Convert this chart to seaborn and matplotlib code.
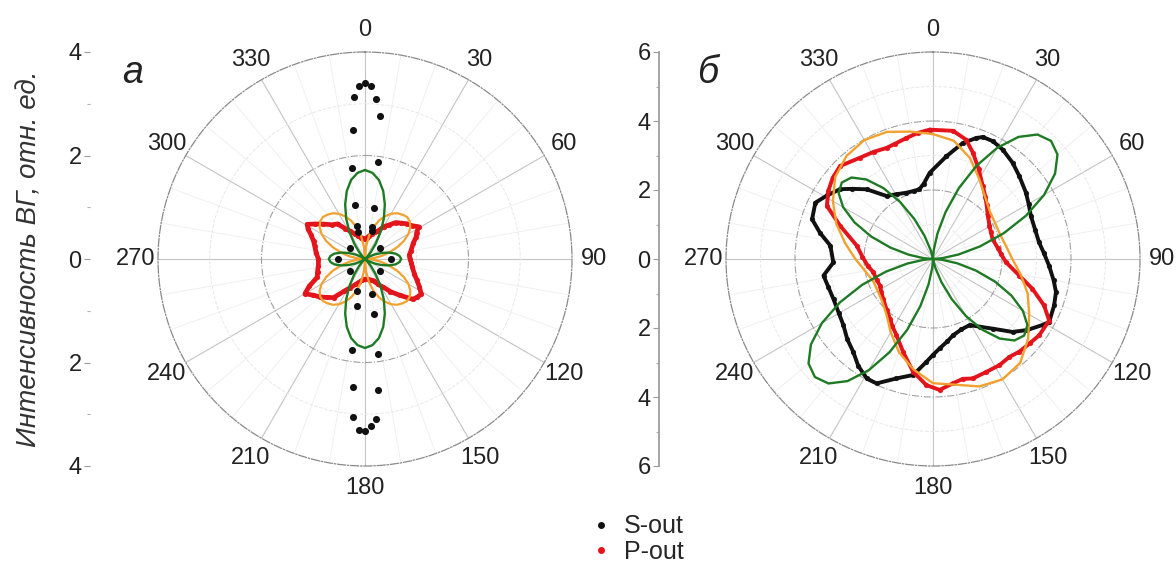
import numpy as np
import pandas as pd
import matplotlib
matplotlib.use('Agg')
from matplotlib import pyplot as plt
from matplotlib.lines import Line2D
import seaborn as sns

sns.set_theme(style='white')
plt.rcParams['font.family'] = ['Liberation Sans', 'DejaVu Sans']

# ---------- panel a (r up to 4) ----------
# S-out, measured points (angle deg, intensity)
a_s_ang = [0, 2, 358, 356.2, 3.9, 354.8, 6, 351.7, 7.7, 349.6, 9.9, 346, 345, 13, 14,
           307, 53, 231, 129, 270, 90,
           193.5, 169, 190, 170.8, 188.3, 172, 185.3, 174.4, 184.3, 176, 182, 178, 180]
a_s_val = [3.40, 3.34, 3.35, 3.13, 3.09, 2.51, 2.77, 1.78, 1.90, 1.07, 1.00, 0.66, 0.55, 0.64, 0.55,
           0.36, 0.36, 0.37, 0.37, 0.53, 0.51,
           0.63, 0.68, 0.92, 1.08, 1.78, 1.86, 2.48, 2.55, 3.07, 3.09, 3.30, 3.23, 3.33]

# P-out, measured points
a_p_ang = [0, 5, 10, 15, 20, 25, 30, 35, 40, 45, 50, 55, 59, 63, 67, 72, 80, 85, 90, 95, 100,
           107, 112, 117, 122, 126, 130, 136, 142, 147, 153, 158, 165, 172, 180,
           187, 194, 200, 207, 213, 219, 225, 230, 235, 240, 244, 249, 255, 262, 270, 277,
           284, 289, 294, 298, 301, 305, 310, 316, 322, 327, 332, 338, 344, 350, 355, 360]
a_p_val = [0.38, 0.41, 0.45, 0.50, 0.56, 0.60, 0.72, 0.80, 0.92, 0.98, 1.06, 1.12, 1.21, 1.12, 1.07, 0.98, 0.90, 0.86, 0.87, 0.90, 0.93,
           1.00, 1.08, 1.18, 1.28, 1.25, 1.21, 0.98, 0.80, 0.65, 0.55, 0.45, 0.42, 0.40, 0.39,
           0.41, 0.46, 0.52, 0.62, 0.74, 0.96, 1.05, 1.14, 1.22, 1.34, 1.20, 0.99, 0.95, 0.91, 0.90, 0.95,
           1.00, 1.05, 1.14, 1.25, 1.30, 1.18, 1.05, 0.92, 0.86, 0.70, 0.61, 0.52, 0.46, 0.42, 0.40, 0.38]

# fits on 5 degree grid
fit_ang = list(range(0, 361, 5))
a_fit_green = [1.72, 1.67, 1.55, 1.36, 1.12, 0.86, 0.60, 0.36, 0.18, 0.06, 0.00, 0.02, 0.09, 0.21, 0.34, 0.48, 0.60, 0.67, 0.70,
               0.67, 0.60, 0.48, 0.34, 0.21, 0.09, 0.02, 0.00, 0.06, 0.18, 0.36, 0.60, 0.86, 1.12, 1.36, 1.55, 1.67, 1.72,
               1.67, 1.55, 1.36, 1.12, 0.86, 0.60, 0.36, 0.18, 0.06, 0.00, 0.02, 0.09, 0.21, 0.34, 0.48, 0.60, 0.67, 0.70,
               0.67, 0.60, 0.48, 0.34, 0.21, 0.09, 0.02, 0.00, 0.06, 0.18, 0.36, 0.60, 0.86, 1.12, 1.36, 1.55, 1.67, 1.72]
a_fit_orange = [0.00, 0.25, 0.46, 0.64, 0.79, 0.91, 1.01, 1.08, 1.12, 1.15, 1.13, 1.07, 0.97, 0.83, 0.66, 0.48, 0.31, 0.15, 0.00,
                0.15, 0.31, 0.48, 0.66, 0.83, 0.97, 1.07, 1.13, 1.15, 1.12, 1.08, 1.01, 0.91, 0.79, 0.64, 0.46, 0.25, 0.00,
                0.25, 0.46, 0.64, 0.79, 0.91, 1.01, 1.08, 1.12, 1.15, 1.13, 1.07, 0.97, 0.83, 0.66, 0.48, 0.31, 0.15, 0.00,
                0.15, 0.31, 0.48, 0.66, 0.83, 0.97, 1.07, 1.13, 1.15, 1.12, 1.08, 1.01, 0.91, 0.79, 0.64, 0.46, 0.25, 0.00]

# ---------- panel б (r up to 6) ----------
b_s_ang = [7.4, 14.4, 19.6, 22.2, 26.9, 32.5, 39.6, 46.1, 54.5, 60, 66.2, 74, 81, 87, 93.3, 100, 105, 111, 118.5,
           121, 127, 132.5, 139.4, 145, 151, 158, 165.4, 170, 175.8, 180, 183.7, 189.7, 197, 204.4, 209,
           215, 220.6, 227, 233.5, 240, 248, 255, 261.4, 268, 277.4, 283, 288.2, 295.6, 301, 306.9,
           311, 316.4, 323.6, 331, 338, 344, 349, 353, 357.8, 367.4]
b_s_val = [3.00, 3.47, 3.72, 3.82, 3.83, 3.76, 3.62, 3.47, 3.31, 3.20, 3.10, 3.08, 3.11, 3.22, 3.37, 3.55, 3.69, 3.76, 3.83,
           3.71, 3.42, 3.13, 2.66, 2.40, 2.19, 2.20, 2.29, 2.42, 2.60, 2.78, 2.99, 3.41, 3.62, 3.96, 3.96,
           3.78, 3.55, 3.40, 3.23, 3.15, 3.11, 3.14, 3.21, 2.89, 3.00, 3.36, 3.69, 3.78, 3.58, 3.37,
           3.10, 2.79, 2.27, 2.15, 2.07, 2.05, 2.06, 2.20, 2.50, 3.00]

b_p_ang = [358.5, 8.9, 15.5, 20.6, 27, 34.3, 40, 45, 52, 59.5, 65, 71.6, 80, 86, 92.6, 100.9, 106.7, 112.7, 117.9,
           125.7, 131, 137.1, 142, 148, 155, 161.6, 166, 170.9, 177.1, 183, 190, 197.8, 205.6, 211, 215.8,
           222, 231.3, 237, 243.4, 250, 257.5, 264, 272, 279.9, 289.7, 296.6, 303, 309, 315,
           324.2, 331, 337.3, 342, 347.6, 353, 358.5]
b_p_val = [3.75, 3.76, 3.59, 3.29, 2.92, 2.56, 2.36, 2.20, 2.02, 1.90, 1.85, 1.82, 1.90, 1.98, 2.12, 2.55, 3.01, 3.49, 3.81,
           3.79, 3.72, 3.67, 3.60, 3.63, 3.62, 3.65, 3.58, 3.65, 3.80, 3.66, 3.32, 2.83, 2.45, 2.28, 2.13,
           2.00, 1.85, 1.78, 1.72, 1.74, 1.77, 1.90, 2.05, 2.24, 2.86, 3.44, 3.62, 3.74, 3.81,
           3.62, 3.55, 3.49, 3.52, 3.59, 3.68, 3.75]

b_fit_green = [0.03, 0.27, 0.75, 1.41, 2.18, 2.98, 3.72, 4.32, 4.71, 4.84, 4.71, 4.32, 3.72, 2.98, 2.18, 1.41, 0.75, 0.27, 0.03,
               0.27, 0.71, 1.28, 1.91, 2.51, 3.01, 3.34, 3.45, 3.34, 3.01, 2.51, 1.91, 1.28, 0.71, 0.27, 0.03, 0.03,
               0.03, 0.27, 0.75, 1.41, 2.18, 2.98, 3.72, 4.32, 4.71, 4.84, 4.71, 4.32, 3.72, 2.98, 2.18, 1.41, 0.75, 0.27,
               0.03, 0.27, 0.71, 1.28, 1.91, 2.51, 3.01, 3.34, 3.45, 3.34, 3.01, 2.51, 1.91, 1.28, 0.71, 0.27, 0.03, 0.03,
               0.03]
fit_ang10 = list(range(0, 361, 10))
b_fit_orange = [3.62, 3.48, 3.12, 2.68, 2.35, 2.15, 2.08, 2.07, 2.15, 2.30, 2.58, 2.92, 3.22, 3.60, 3.93, 4.03, 3.93, 3.70,
                3.60, 3.25, 2.88, 2.45, 2.10, 1.92, 1.85, 1.85, 2.00, 2.25, 2.58, 2.98, 3.35, 3.70, 3.90, 3.98, 3.92, 3.75,
                3.62]

angle_labels = [str(a) for a in range(0, 360, 30)]

BLACK = '#111111'
RED = '#e3141b'
ORANGE = '#f2a12e'
GREEN = '#1f7a24'

W, H = 1176, 562
fig = plt.figure(figsize=(W / 100, H / 100), dpi=100)


def setup_polar(cx, cy, R, rmax):
    ax = fig.add_axes([(cx - R) / W, (H - cy - R) / H, 2 * R / W, 2 * R / H], projection='polar')
    ax.set_theta_zero_location('N')
    ax.set_theta_direction(-1)
    ax.set_rlim(0, rmax)
    ax.set_xticks(np.deg2rad(range(0, 360, 30)))
    ax.set_xticklabels(angle_labels)
    ax.set_xticks(np.deg2rad([a for a in range(0, 360, 10) if a % 30]), minor=True)
    ax.set_yticks(list(range(2, rmax, 2)))
    ax.set_yticks(list(range(1, rmax, 2)), minor=True)
    ax.set_yticklabels([])
    ax.xaxis.grid(True, which='major', color='#c4c4c4', lw=0.8, ls='-')
    ax.xaxis.grid(True, which='minor', color='#f0f0f0', lw=0.7, ls='-')
    ax.yaxis.grid(True, which='major', color='#a0a0a0', lw=0.8, ls='-.')
    ax.yaxis.grid(True, which='minor', color='#e8e8e8', lw=0.7, ls='--')
    ax.tick_params(axis='x', which='major', labelsize=17, pad=3, colors='#222222')
    ax.tick_params(axis='x', which='minor', length=0)
    ax.spines['polar'].set_color('#8a8a8a')
    ax.spines['polar'].set_linestyle('-.')
    ax.spines['polar'].set_linewidth(0.9)
    ax.set_facecolor('none')
    return ax


def radial_axis(x, cy, R, rmax, show_line):
    ax = fig.add_axes([x / W, (H - cy - R) / H, 0.0001, 2 * R / H])
    ax.set_ylim(-rmax, rmax)
    ax.set_yticks(list(range(-rmax, rmax + 1, 2)))
    ax.set_yticklabels([str(abs(v)) for v in range(-rmax, rmax + 1, 2)])
    ax.set_yticks(list(range(-rmax + 1, rmax, 2)), minor=True)
    ax.set_xticks([])
    for s in ['top', 'right', 'bottom']:
        ax.spines[s].set_visible(False)
    ax.spines['left'].set_visible(show_line)
    ax.spines['left'].set_color('#9a9a9a')
    ax.tick_params(axis='y', which='major', length=4, width=0.8, color='#9a9a9a',
                   labelsize=17, pad=2, left=True, labelcolor='#222222')
    ax.tick_params(axis='y', which='minor', length=2, width=0.8, color='#b0b0b0', left=True)
    ax.set_facecolor('none')
    return ax


# panel a
ax1 = setup_polar(365, 259, 207, 4)
radial_axis(90, 259, 207, 4, False)
sns.lineplot(x=np.deg2rad(a_p_ang), y=a_p_val, ax=ax1, sort=False, estimator=None,
             color=RED, lw=3.4, zorder=3)
sns.scatterplot(x=np.deg2rad(a_p_ang), y=a_p_val, ax=ax1, color=RED, s=12, edgecolor=RED, zorder=3)
sns.lineplot(x=np.deg2rad(fit_ang), y=a_fit_orange, ax=ax1, sort=False, estimator=None,
             color=ORANGE, lw=1.6, zorder=4)
sns.lineplot(x=np.deg2rad(fit_ang), y=a_fit_green, ax=ax1, sort=False, estimator=None,
             color=GREEN, lw=1.7, zorder=5)
sns.scatterplot(x=np.deg2rad(a_s_ang), y=a_s_val, ax=ax1, color=BLACK, s=26, edgecolor=BLACK,
                linewidth=0, zorder=6)
ax1.set_xlabel('')
ax1.set_ylabel('')

# panel б
ax2 = setup_polar(933, 259, 207, 6)
radial_axis(659, 259, 207, 6, True)
sns.lineplot(x=np.deg2rad(b_s_ang), y=b_s_val, ax=ax2, sort=False, estimator=None,
             color=BLACK, lw=2.8, zorder=3)
sns.scatterplot(x=np.deg2rad(b_s_ang), y=b_s_val, ax=ax2, color=BLACK, s=12, edgecolor=BLACK, zorder=3)
sns.lineplot(x=np.deg2rad(b_p_ang), y=b_p_val, ax=ax2, sort=False, estimator=None,
             color=RED, lw=2.8, zorder=4)
sns.scatterplot(x=np.deg2rad(b_p_ang), y=b_p_val, ax=ax2, color=RED, s=12, edgecolor=RED, zorder=4)
sns.lineplot(x=np.deg2rad(fit_ang10), y=b_fit_orange, ax=ax2, sort=False, estimator=None,
             color=ORANGE, lw=1.7, zorder=5)
sns.lineplot(x=np.deg2rad(fit_ang), y=b_fit_green, ax=ax2, sort=False, estimator=None,
             color=GREEN, lw=1.7, zorder=6)
ax2.set_xlabel('')
ax2.set_ylabel('')

# labels
fig.text(30 / W, 1 - 259 / H, 'Интенсивность ВГ, отн. ед.', rotation=90, style='italic',
         ha='center', va='center', fontsize=20, color='#333333')
fig.text(133 / W, 1 - 73 / H, 'a', style='italic', ha='center', va='center', fontsize=27, color='#222222')
fig.text(708 / W, 1 - 73 / H, 'б', style='italic', ha='center', va='center', fontsize=27, color='#222222')

handles = [Line2D([], [], marker='o', ls='', color=BLACK, markersize=4),
           Line2D([], [], marker='o', ls='', color=RED, markersize=4)]
fig.legend(handles, ['S-out', 'P-out'], loc='center left', bbox_to_anchor=(591 / W, 1 - 539 / H),
           frameon=False, fontsize=18, handlelength=0.8, handletextpad=0.5, labelspacing=0.05,
           borderpad=0, borderaxespad=0)

fig.savefig('out.png', dpi=100, facecolor='white')
